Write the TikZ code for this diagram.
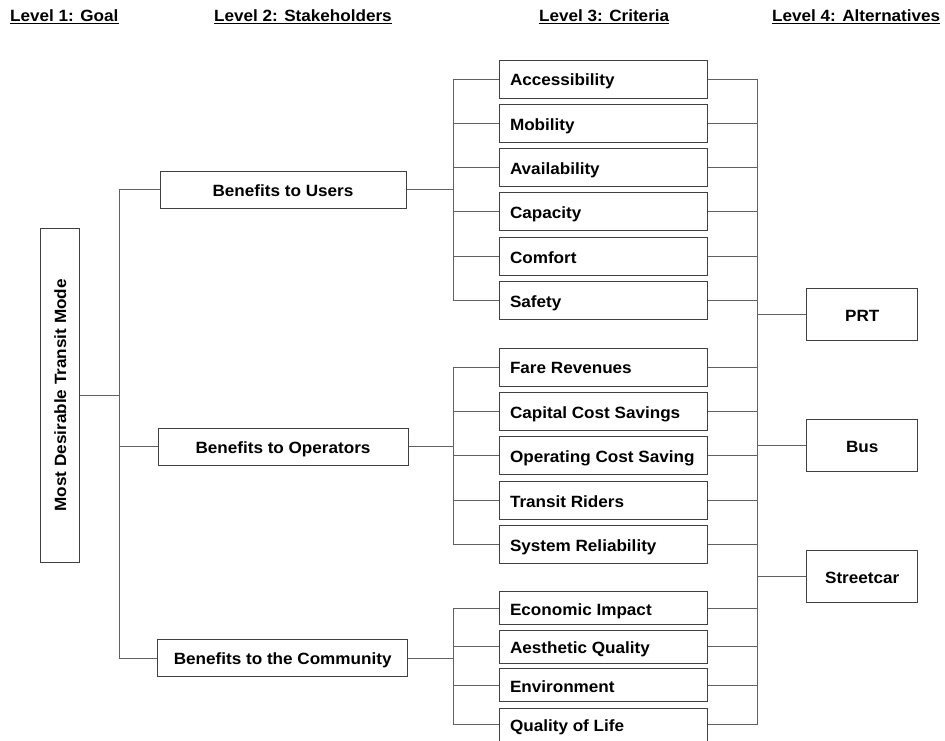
\documentclass[tikz,border=0pt]{standalone}
\usepackage{fontspec}
\setmainfont{Liberation Sans}[FakeStretch=1.05]
\begin{document}
\begin{tikzpicture}[x=1pt,y=-1pt,
  lbl/.style={font=\fontsize{16.3}{18}\selectfont\bfseries, text=black},
  box/.style={lbl, draw=black!75, line width=1pt, fill=white, inner sep=0pt},
  boxtext/.style={box, text height=13.6pt, text depth=0pt},
  stake/.style={boxtext, minimum height=37pt},
  crit/.style={boxtext, minimum width=208pt, inner xsep=11pt},
  altbox/.style={boxtext, minimum width=111pt, minimum height=52pt},
  head/.style={lbl, anchor=base west, inner sep=0pt},
  wire/.style={draw=black!62, line width=1pt},
  uline/.style={draw=black, line width=1pt}
]
\useasboundingbox (0,0) rectangle (945,740);
\clip (0,0) rectangle (945,740);

% column headings
\node[head] (h1) at (10,21) {Level 1: Goal};
\node[head] (h2) at (214,21) {Level 2: Stakeholders};
\node[head] (h3) at (539,21) {Level 3: Criteria};
\node[head] (h4) at (772,21) {Level 4: Alternatives};
\foreach \h in {h1,h2,h3,h4}
  \draw[uline] ([yshift=-2.5pt]\h.base west) -- ([yshift=-2.5pt]\h.base east);

% level 1: goal
\node[box, minimum width=39pt, minimum height=334pt] (goal) at (60.2,395.3)
  {\rotatebox{90}{Most Desirable Transit Mode}};

% level 2: stakeholders
\node[stake, minimum width=246pt] (users) at (283,189.5) {Benefits to Users};
\node[stake, minimum width=250pt] (oper)  at (283,446.5) {Benefits to Operators};
\node[stake, minimum width=250pt] (comm)  at (282.7,658) {Benefits to the Community};

% level 3: criteria
\foreach \n/\y/\t in {acc/79/Accessibility, mob/123.3/Mobility, ava/167.6/Availability,
                      cap/211.9/Capacity, com/256.2/Comfort, saf/300.5/Safety}
  \node[crit, minimum height=38pt] (\n) at (603,\y) {\makebox[186pt][l]{\t}};
\foreach \n/\y/\t in {far/367/Fare Revenues, ccs/411.4/Capital Cost Savings,
                      ocs/455.8/Operating Cost Saving, tri/500.2/Transit Riders,
                      sre/544.6/System Reliability}
  \node[crit, minimum height=38pt] (\n) at (603,\y) {\makebox[186pt][l]{\t}};
\foreach \n/\y/\t in {eco/608.2/Economic Impact, aes/646.6/Aesthetic Quality,
                      env/685.3/Environment, qol/724.5/Quality of Life}
  \node[crit, minimum height=33pt] (\n) at (603,\y) {\makebox[186pt][l]{\t}};

% level 4: alternatives
\node[altbox] (prt) at (862.2,314.8) {PRT};
\node[altbox] (bus) at (862.2,445.8) {Bus};
\node[altbox] (stc) at (862.2,576.8) {Streetcar};

% junction points of the bracket lines
\coordinate (gj) at (119,395.3);
\coordinate (uj) at (453,189.5);
\coordinate (oj) at (453,446.5);
\coordinate (cj) at (453,658);
\coordinate (rt) at (757,0);

% goal to stakeholders
\draw[wire] (goal.east) -- (gj);
\draw[wire] (users.west) -| (gj);
\draw[wire] (oper.west) -| (gj);
\draw[wire] (comm.west) -| (gj);

% stakeholders to criteria
\draw[wire] (users.east) -- (uj);
\foreach \n in {acc,mob,ava,cap,com,saf} \draw[wire] (\n.west) -| (uj);
\draw[wire] (oper.east) -- (oj);
\foreach \n in {far,ccs,ocs,tri,sre} \draw[wire] (\n.west) -| (oj);
\draw[wire] (comm.east) -- (cj);
\foreach \n in {eco,aes,env,qol} \draw[wire] (\n.west) -| (cj);

% criteria to alternatives
\draw[wire] (acc.east -| rt) -- (qol.east -| rt);
\foreach \n in {acc,mob,ava,cap,com,saf,far,ccs,ocs,tri,sre,eco,aes,env,qol}
  \draw[wire] (\n.east) -- (\n.east -| rt);
\foreach \n in {prt,bus,stc} \draw[wire] (\n.west) -- (\n.west -| rt);
\end{tikzpicture}
\end{document}
